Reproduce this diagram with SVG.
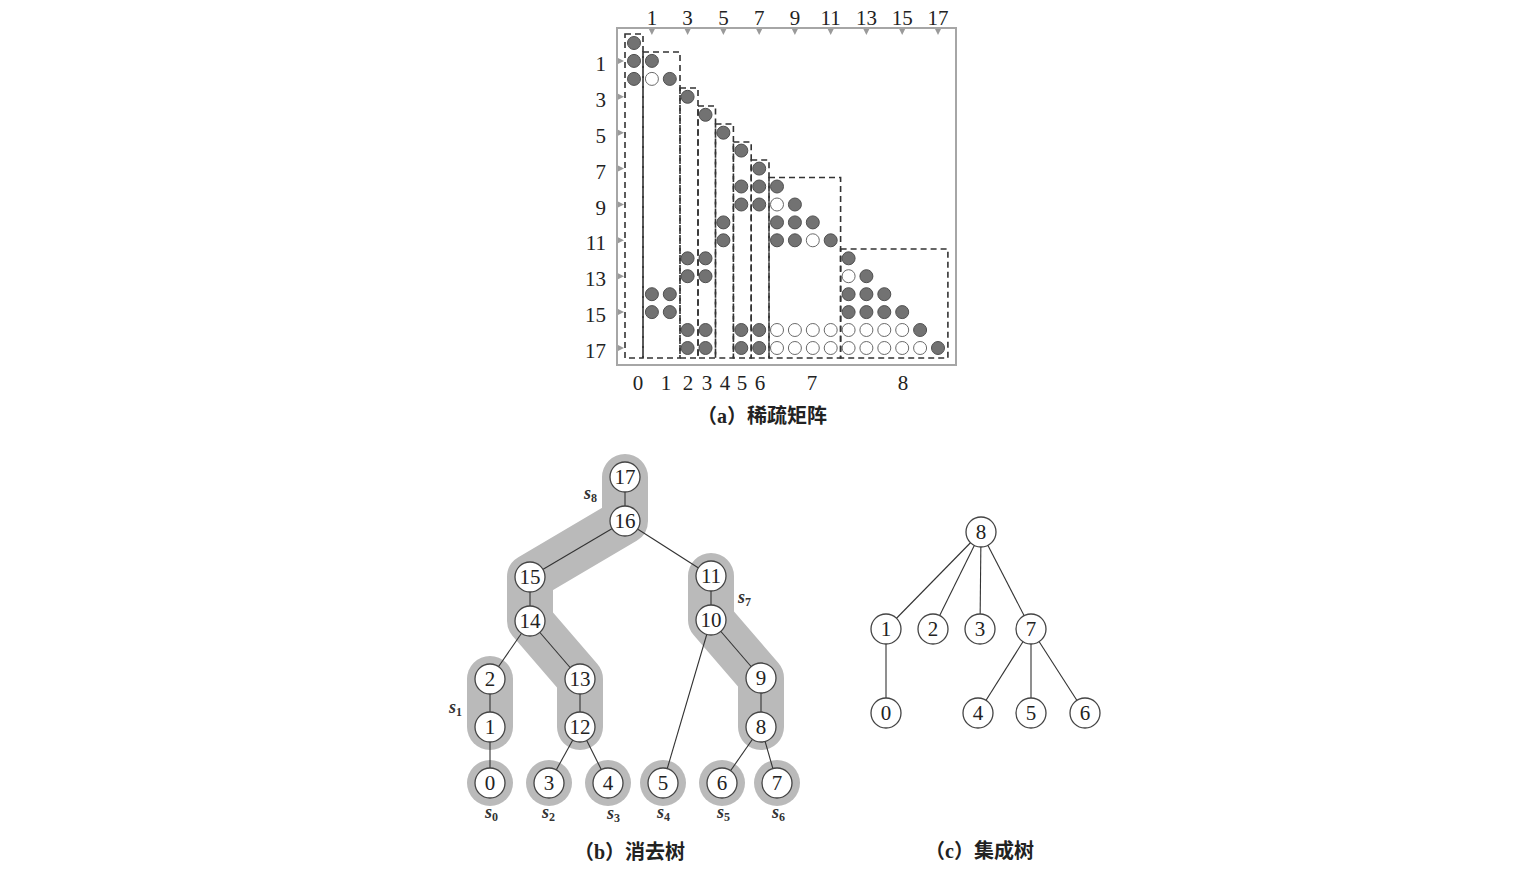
<svg xmlns="http://www.w3.org/2000/svg" width="1535" height="887" viewBox="0 0 1535 887">
<style>
.bg{fill:#ffffff}
.frame{fill:none;stroke:#a6a6a6;stroke-width:2}
.tick{fill:#9a9a9a}
.lbl{font-family:"Liberation Serif","DejaVu Serif",serif;font-size:21px;fill:#222}
.f{fill:#727272;stroke:#505050;stroke-width:1}
.h{fill:#ffffff;stroke:#6a6a6a;stroke-width:1}
.box{fill:none;stroke:#333;stroke-width:1.6;stroke-dasharray:6 4}
.cap{font-family:"Liberation Serif","Noto Sans CJK SC",serif;font-size:20px;font-weight:600;fill:#222}
.band{fill:none;stroke:#bababa;stroke-width:46;stroke-linecap:round;stroke-linejoin:round}
.halo{fill:#bababa}
.edge{stroke:#333;stroke-width:1.1;fill:none}
.node circle{fill:#fff;stroke:#444;stroke-width:1.3}
.node text{font-family:"Liberation Serif","DejaVu Serif",serif;font-size:21px;fill:#222;text-anchor:middle}
.sl{font-family:"Liberation Serif","DejaVu Serif",serif;font-style:italic;font-weight:bold;font-size:18px;fill:#333}
.sub{font-size:12px;font-style:normal}
</style>
<rect class="bg" x="0" y="0" width="1535" height="887"/>

<g id="matrix">
  <rect class="frame" x="617" y="28" width="339" height="337"/>
  <g id="top-ticks" class="tick">
    <polygon points="648.9,29 654.9,29 651.9,35"/>
    <polygon points="684.6,29 690.6,29 687.6,35"/>
    <polygon points="720.4,29 726.4,29 723.4,35"/>
    <polygon points="756.2,29 762.2,29 759.2,35"/>
    <polygon points="791.9,29 797.9,29 794.9,35"/>
    <polygon points="827.7,29 833.7,29 830.7,35"/>
    <polygon points="863.4,29 869.4,29 866.4,35"/>
    <polygon points="899.2,29 905.2,29 902.2,35"/>
    <polygon points="935,29 941,29 938,35"/>
  </g>
  <g id="left-ticks" class="tick">
    <polygon points="618,57.9 618,63.9 624,60.9"/>
    <polygon points="618,93.8 618,99.8 624,96.8"/>
    <polygon points="618,129.7 618,135.7 624,132.7"/>
    <polygon points="618,165.6 618,171.6 624,168.6"/>
    <polygon points="618,201.5 618,207.5 624,204.5"/>
    <polygon points="618,237.3 618,243.3 624,240.3"/>
    <polygon points="618,273.2 618,279.2 624,276.2"/>
    <polygon points="618,309.1 618,315.1 624,312.1"/>
    <polygon points="618,345 618,351 624,348"/>
  </g>
  <g id="top-labels" class="lbl" text-anchor="middle">
    <text x="651.9" y="25">1</text>
    <text x="687.6" y="25">3</text>
    <text x="723.4" y="25">5</text>
    <text x="759.2" y="25">7</text>
    <text x="794.9" y="25">9</text>
    <text x="830.7" y="25">11</text>
    <text x="866.4" y="25">13</text>
    <text x="902.2" y="25">15</text>
    <text x="938" y="25">17</text>
  </g>
  <g id="left-labels" class="lbl" text-anchor="end">
    <text x="606" y="70.9">1</text>
    <text x="606" y="106.8">3</text>
    <text x="606" y="142.7">5</text>
    <text x="606" y="178.6">7</text>
    <text x="606" y="214.5">9</text>
    <text x="606" y="250.3">11</text>
    <text x="606" y="286.2">13</text>
    <text x="606" y="322.1">15</text>
    <text x="606" y="358">17</text>
  </g>
  <g id="entries">
    <circle class="f" cx="634" cy="43" r="6.5"/>
    <circle class="f" cx="634" cy="60.9" r="6.5"/>
    <circle class="f" cx="634" cy="78.9" r="6.5"/>
    <circle class="f" cx="651.9" cy="60.9" r="6.5"/>
    <circle class="h" cx="651.9" cy="78.9" r="6.5"/>
    <circle class="f" cx="651.9" cy="294.2" r="6.5"/>
    <circle class="f" cx="651.9" cy="312.1" r="6.5"/>
    <circle class="f" cx="669.8" cy="78.9" r="6.5"/>
    <circle class="f" cx="669.8" cy="294.2" r="6.5"/>
    <circle class="f" cx="669.8" cy="312.1" r="6.5"/>
    <circle class="f" cx="687.6" cy="96.8" r="6.5"/>
    <circle class="f" cx="687.6" cy="258.3" r="6.5"/>
    <circle class="f" cx="687.6" cy="276.2" r="6.5"/>
    <circle class="f" cx="687.6" cy="330" r="6.5"/>
    <circle class="f" cx="687.6" cy="348" r="6.5"/>
    <circle class="f" cx="705.5" cy="114.8" r="6.5"/>
    <circle class="f" cx="705.5" cy="258.3" r="6.5"/>
    <circle class="f" cx="705.5" cy="276.2" r="6.5"/>
    <circle class="f" cx="705.5" cy="330" r="6.5"/>
    <circle class="f" cx="705.5" cy="348" r="6.5"/>
    <circle class="f" cx="723.4" cy="132.7" r="6.5"/>
    <circle class="f" cx="723.4" cy="222.4" r="6.5"/>
    <circle class="f" cx="723.4" cy="240.3" r="6.5"/>
    <circle class="f" cx="741.3" cy="150.6" r="6.5"/>
    <circle class="f" cx="741.3" cy="186.5" r="6.5"/>
    <circle class="f" cx="741.3" cy="204.5" r="6.5"/>
    <circle class="f" cx="741.3" cy="330" r="6.5"/>
    <circle class="f" cx="741.3" cy="348" r="6.5"/>
    <circle class="f" cx="759.2" cy="168.6" r="6.5"/>
    <circle class="f" cx="759.2" cy="186.5" r="6.5"/>
    <circle class="f" cx="759.2" cy="204.5" r="6.5"/>
    <circle class="f" cx="759.2" cy="330" r="6.5"/>
    <circle class="f" cx="759.2" cy="348" r="6.5"/>
    <circle class="f" cx="777" cy="186.5" r="6.5"/>
    <circle class="h" cx="777" cy="204.5" r="6.5"/>
    <circle class="f" cx="777" cy="222.4" r="6.5"/>
    <circle class="f" cx="777" cy="240.3" r="6.5"/>
    <circle class="h" cx="777" cy="330" r="6.5"/>
    <circle class="h" cx="777" cy="348" r="6.5"/>
    <circle class="f" cx="794.9" cy="204.5" r="6.5"/>
    <circle class="f" cx="794.9" cy="222.4" r="6.5"/>
    <circle class="f" cx="794.9" cy="240.3" r="6.5"/>
    <circle class="h" cx="794.9" cy="330" r="6.5"/>
    <circle class="h" cx="794.9" cy="348" r="6.5"/>
    <circle class="f" cx="812.8" cy="222.4" r="6.5"/>
    <circle class="h" cx="812.8" cy="240.3" r="6.5"/>
    <circle class="h" cx="812.8" cy="330" r="6.5"/>
    <circle class="h" cx="812.8" cy="348" r="6.5"/>
    <circle class="f" cx="830.7" cy="240.3" r="6.5"/>
    <circle class="h" cx="830.7" cy="330" r="6.5"/>
    <circle class="h" cx="830.7" cy="348" r="6.5"/>
    <circle class="f" cx="848.6" cy="258.3" r="6.5"/>
    <circle class="h" cx="848.6" cy="276.2" r="6.5"/>
    <circle class="f" cx="848.6" cy="294.2" r="6.5"/>
    <circle class="f" cx="848.6" cy="312.1" r="6.5"/>
    <circle class="h" cx="848.6" cy="330" r="6.5"/>
    <circle class="h" cx="848.6" cy="348" r="6.5"/>
    <circle class="f" cx="866.4" cy="276.2" r="6.5"/>
    <circle class="f" cx="866.4" cy="294.2" r="6.5"/>
    <circle class="f" cx="866.4" cy="312.1" r="6.5"/>
    <circle class="h" cx="866.4" cy="330" r="6.5"/>
    <circle class="h" cx="866.4" cy="348" r="6.5"/>
    <circle class="f" cx="884.3" cy="294.2" r="6.5"/>
    <circle class="f" cx="884.3" cy="312.1" r="6.5"/>
    <circle class="h" cx="884.3" cy="330" r="6.5"/>
    <circle class="h" cx="884.3" cy="348" r="6.5"/>
    <circle class="f" cx="902.2" cy="312.1" r="6.5"/>
    <circle class="h" cx="902.2" cy="330" r="6.5"/>
    <circle class="h" cx="902.2" cy="348" r="6.5"/>
    <circle class="f" cx="920.1" cy="330" r="6.5"/>
    <circle class="h" cx="920.1" cy="348" r="6.5"/>
    <circle class="f" cx="938" cy="348" r="6.5"/>
  </g>
  <g id="supernode-boxes">
    <rect class="box" x="625" y="34" width="18" height="324"/>
    <rect class="box" x="643" y="52" width="37" height="306"/>
    <rect class="box" x="680" y="88" width="18" height="270"/>
    <rect class="box" x="698" y="106" width="17.5" height="252"/>
    <rect class="box" x="715.5" y="124" width="17.9" height="234"/>
    <rect class="box" x="733.4" y="142" width="17.8" height="216"/>
    <rect class="box" x="751.2" y="160" width="17.8" height="198"/>
    <rect class="box" x="769" y="177.5" width="71.6" height="180.5"/>
    <rect class="box" x="840.6" y="249" width="107.3" height="109"/>
  </g>
  <g id="bottom-labels" class="lbl" text-anchor="middle">
    <text x="638" y="390">0</text>
    <text x="666" y="390">1</text>
    <text x="688" y="390">2</text>
    <text x="707" y="390">3</text>
    <text x="725" y="390">4</text>
    <text x="742" y="390">5</text>
    <text x="760" y="390">6</text>
    <text x="812" y="390">7</text>
    <text x="903" y="390">8</text>
  </g>
  <text class="cap" x="697" y="423">（a）稀疏矩阵</text>
</g>

<g id="etree-highlights">
  <polyline class="band" points="625,477 625,521 530,577 530,621 580,679 580,727"/>
  <polyline class="band" points="711,576 711,620 761,678 761,727"/>
  <polyline class="band" points="490,679 490,727"/>
  <circle class="halo" cx="490" cy="783" r="23"/>
  <circle class="halo" cx="549" cy="783" r="23"/>
  <circle class="halo" cx="608" cy="783" r="23"/>
  <circle class="halo" cx="663" cy="783" r="23"/>
  <circle class="halo" cx="722" cy="783" r="23"/>
  <circle class="halo" cx="777" cy="783" r="23"/>
</g>

<g id="connectors">
  <line class="edge" x1="625" y1="477" x2="625" y2="521"/>
  <line class="edge" x1="625" y1="521" x2="530" y2="577"/>
  <line class="edge" x1="625" y1="521" x2="711" y2="576"/>
  <line class="edge" x1="530" y1="577" x2="530" y2="621"/>
  <line class="edge" x1="530" y1="621" x2="490" y2="679"/>
  <line class="edge" x1="530" y1="621" x2="580" y2="679"/>
  <line class="edge" x1="490" y1="679" x2="490" y2="727"/>
  <line class="edge" x1="490" y1="727" x2="490" y2="783"/>
  <line class="edge" x1="580" y1="679" x2="580" y2="727"/>
  <line class="edge" x1="580" y1="727" x2="549" y2="783"/>
  <line class="edge" x1="580" y1="727" x2="608" y2="783"/>
  <line class="edge" x1="711" y1="576" x2="711" y2="620"/>
  <line class="edge" x1="711" y1="620" x2="761" y2="678"/>
  <line class="edge" x1="711" y1="620" x2="663" y2="783"/>
  <line class="edge" x1="761" y1="678" x2="761" y2="727"/>
  <line class="edge" x1="761" y1="727" x2="722" y2="783"/>
  <line class="edge" x1="761" y1="727" x2="777" y2="783"/>
  <line class="edge" x1="981" y1="532" x2="886" y2="629"/>
  <line class="edge" x1="981" y1="532" x2="933" y2="629"/>
  <line class="edge" x1="981" y1="532" x2="980" y2="629"/>
  <line class="edge" x1="981" y1="532" x2="1031" y2="629"/>
  <line class="edge" x1="886" y1="629" x2="886" y2="713"/>
  <line class="edge" x1="1031" y1="629" x2="978" y2="713"/>
  <line class="edge" x1="1031" y1="629" x2="1031" y2="713"/>
  <line class="edge" x1="1031" y1="629" x2="1085" y2="713"/>
</g>

<g id="etree-nodes">
  <g id="e17" class="node"><circle cx="625" cy="477" r="15"/><text x="625" y="484">17</text></g>
  <g id="e16" class="node"><circle cx="625" cy="521" r="15"/><text x="625" y="528">16</text></g>
  <g id="e15" class="node"><circle cx="530" cy="577" r="15"/><text x="530" y="584">15</text></g>
  <g id="e14" class="node"><circle cx="530" cy="621" r="15"/><text x="530" y="628">14</text></g>
  <g id="e2" class="node"><circle cx="490" cy="679" r="15"/><text x="490" y="686">2</text></g>
  <g id="e1" class="node"><circle cx="490" cy="727" r="15"/><text x="490" y="734">1</text></g>
  <g id="e0" class="node"><circle cx="490" cy="783" r="15"/><text x="490" y="790">0</text></g>
  <g id="e13" class="node"><circle cx="580" cy="679" r="15"/><text x="580" y="686">13</text></g>
  <g id="e12" class="node"><circle cx="580" cy="727" r="15"/><text x="580" y="734">12</text></g>
  <g id="e3" class="node"><circle cx="549" cy="783" r="15"/><text x="549" y="790">3</text></g>
  <g id="e4" class="node"><circle cx="608" cy="783" r="15"/><text x="608" y="790">4</text></g>
  <g id="e5" class="node"><circle cx="663" cy="783" r="15"/><text x="663" y="790">5</text></g>
  <g id="e11" class="node"><circle cx="711" cy="576" r="15"/><text x="711" y="583">11</text></g>
  <g id="e10" class="node"><circle cx="711" cy="620" r="15"/><text x="711" y="627">10</text></g>
  <g id="e9" class="node"><circle cx="761" cy="678" r="15"/><text x="761" y="685">9</text></g>
  <g id="e8" class="node"><circle cx="761" cy="727" r="15"/><text x="761" y="734">8</text></g>
  <g id="e6" class="node"><circle cx="722" cy="783" r="15"/><text x="722" y="790">6</text></g>
  <g id="e7" class="node"><circle cx="777" cy="783" r="15"/><text x="777" y="790">7</text></g>
</g>

<g id="etree-labels">
  <text class="sl" x="584" y="499">s<tspan class="sub" dy="3">8</tspan></text>
  <text class="sl" x="738" y="603">s<tspan class="sub" dy="3">7</tspan></text>
  <text class="sl" x="449" y="713">s<tspan class="sub" dy="3">1</tspan></text>
  <text class="sl" x="485" y="818">s<tspan class="sub" dy="3">0</tspan></text>
  <text class="sl" x="542" y="818">s<tspan class="sub" dy="3">2</tspan></text>
  <text class="sl" x="607" y="819">s<tspan class="sub" dy="3">3</tspan></text>
  <text class="sl" x="657" y="818">s<tspan class="sub" dy="3">4</tspan></text>
  <text class="sl" x="717" y="818">s<tspan class="sub" dy="3">5</tspan></text>
  <text class="sl" x="772" y="818">s<tspan class="sub" dy="3">6</tspan></text>
  <text class="cap" x="574" y="859">（b）消去树</text>
</g>

<g id="atree-nodes">
  <g id="a8" class="node"><circle cx="981" cy="532" r="15"/><text x="981" y="539">8</text></g>
  <g id="a1" class="node"><circle cx="886" cy="629" r="15"/><text x="886" y="636">1</text></g>
  <g id="a2" class="node"><circle cx="933" cy="629" r="15"/><text x="933" y="636">2</text></g>
  <g id="a3" class="node"><circle cx="980" cy="629" r="15"/><text x="980" y="636">3</text></g>
  <g id="a7" class="node"><circle cx="1031" cy="629" r="15"/><text x="1031" y="636">7</text></g>
  <g id="a0" class="node"><circle cx="886" cy="713" r="15"/><text x="886" y="720">0</text></g>
  <g id="a4" class="node"><circle cx="978" cy="713" r="15"/><text x="978" y="720">4</text></g>
  <g id="a5" class="node"><circle cx="1031" cy="713" r="15"/><text x="1031" y="720">5</text></g>
  <g id="a6" class="node"><circle cx="1085" cy="713" r="15"/><text x="1085" y="720">6</text></g>
  <text class="cap" x="925" y="858">（c）集成树</text>
</g>
</svg>
